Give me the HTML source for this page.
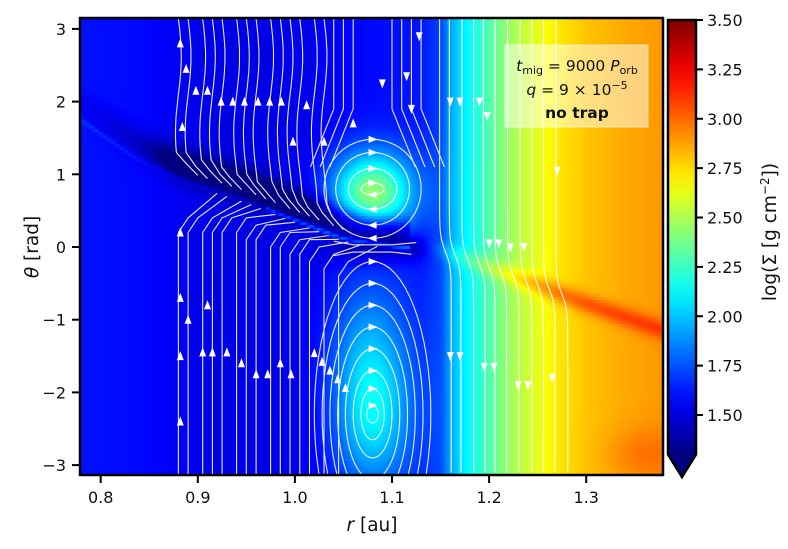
<!DOCTYPE html>
<html><head><meta charset="utf-8">
<style>
body{margin:0;background:#fff;width:788px;height:549px;overflow:hidden;font-family:"DejaVu Sans","Liberation Sans",sans-serif;}
#wrap{position:relative;width:788px;height:549px;}
canvas{position:absolute;left:80px;top:18px;}
svg{position:absolute;left:0;top:0;font-family:"DejaVu Sans","Liberation Sans",sans-serif;}
</style></head>
<body>
<div id="wrap">
<canvas id="hm" width="583" height="457"></canvas>
<svg id="sv" width="788" height="549"></svg>
</div>
<script>
// ---- data ----
const xTicks=[0.8,0.9,1.0,1.1,1.2,1.3];
const xTickLabels=["0.8","0.9","1.0","1.1","1.2","1.3"];
const yTicks=[3,2,1,0,-1,-2,-3];
const yTickLabels=["3","2","1","0","\u22121","\u22122","\u22123"];
const cbTicks=[3.5,3.25,3.0,2.75,2.5,2.25,2.0,1.75,1.5];
const cbTickLabels=["3.50","3.25","3.00","2.75","2.50","2.25","2.00","1.75","1.50"];
// radial background profile of log Sigma
const profR=[0.78,0.84,0.88,0.92,0.98,1.02,1.06,1.10,1.13,1.15,1.16,1.17,1.19,1.21,1.23,1.25,1.27,1.30,1.34,1.38];
const profV=[1.61,1.59,1.55,1.52,1.52,1.54,1.58,1.60,1.62,1.72,1.92,2.05,2.22,2.38,2.52,2.62,2.72,2.80,2.86,2.90];
// wake centreline
const wakeR=[0.78,0.84,0.88,0.95,1.00,1.05,1.10,1.15,1.20,1.25,1.30,1.38];
const wakeT=[1.75,1.2,0.95,0.65,0.38,0.12,0.02,-0.04,-0.28,-0.52,-0.78,-1.15];
// wake amplitude along r (negative = gap/dark, positive = bright spiral)
const wakeAmp=[-0.03,-0.15,-0.38,-0.42,-0.42,-0.40,-0.32,0.12,0.18,0.24,0.24,0.22];
// blobs: r, theta, amplitude, sigma r, sigma theta
const blobR=[1.08,1.08,1.08,1.075,1.36];
const blobT=[0.75,-2.30,0.0,-1.2,-2.85];
const blobA=[0.85,0.5,-0.3,0.22,0.1];
const blobSR=[0.042,0.04,0.045,0.04,0.04];
const blobST=[0.55,1.0,0.22,0.9,0.35];
// streamlines
const leftUpR=[0.88,0.89,0.905,0.915,0.925,0.94,0.95,0.96,0.975,0.985,0.995,1.005,1.02,1.03];
const leftLoR=[0.88,0.89,0.905,0.915,0.925,0.94,0.95,0.96,0.975,0.985,0.995,1.005,1.015,1.03,1.045];
const rightR=[1.155,1.165,1.178,1.19,1.2,1.212,1.225,1.238,1.25,1.262,1.275];
const upVortRR=[0.012,0.025,0.038,0.05];
const upVortRT=[0.08,0.28,0.5,0.68];
const loVortRR=[0.006,0.012,0.02,0.028,0.036,0.044,0.052,0.06];
const loVortRT=[0.12,0.35,0.6,0.9,1.2,1.5,1.8,2.1];
const upArrows=[[0.882,2.8],[0.888,2.45],[0.884,1.65],[0.898,2.15],[0.91,2.15],[0.924,2.0],[0.936,2.0],[0.948,2.0],[0.962,2.0],[0.974,2.0],[0.986,2.0],[0.998,1.45],[1.012,1.95],[1.03,1.45],[1.06,1.7],
 [0.882,0.2],[0.882,-0.7],[0.882,-1.5],[0.882,-2.4],[0.89,-1.0],[0.905,-1.45],[0.915,-1.45],[0.93,-1.45],[0.945,-1.6],[0.96,-1.75],[0.972,-1.75],[0.985,-1.6],[0.996,-1.75],[0.91,-0.8]];
const downArrows=[[1.128,2.9],[1.115,2.35],[1.12,1.9],[1.09,2.25],[1.16,2.0],[1.17,2.0],[1.19,2.0],[1.198,1.8],[1.27,1.05],[1.2,0.05],[1.21,0.05],[1.222,0.0],[1.236,0.0],
 [1.16,-1.5],[1.17,-1.5],[1.195,-1.65],[1.205,-1.65],[1.23,-1.9],[1.24,-1.9],[1.265,-1.8]];

// ---- axes ----
const X=r=>100.7+(r-0.8)*971;
const Y=t=>247-t*72.7;
const CBY=v=>20+(3.5-v)*197.5;
const VMIN=1.3,VMAX=3.5;
function interp(xs,ys,x){if(x<=xs[0])return ys[0];for(let i=1;i<xs.length;i++){if(x<=xs[i]){const f=(x-xs[i-1])/(xs[i]-xs[i-1]);return ys[i-1]+f*(ys[i]-ys[i-1]);}}return ys[ys.length-1];}
function jet(v){let t=(v-VMIN)/(VMAX-VMIN);t=Math.max(0,Math.min(1,t));const c=x=>Math.round(255*Math.max(0,Math.min(1,x)));return [c(1.5-Math.abs(4*t-3)),c(1.5-Math.abs(4*t-2)),c(1.5-Math.abs(4*t-1))];}

// ---- heatmap ----
const cv=document.getElementById('hm'),ctx=cv.getContext('2d');
const cs=3;
for(let py=0;py<457;py+=cs){for(let px=0;px<583;px+=cs){
 const r=0.8+((px+80+cs/2)-100.7)/971, th=(247-(py+18+cs/2))/72.7;
 let v=interp(profR,profV,r);
 const wt=interp(wakeR,wakeT,r), wa=interp(wakeR,wakeAmp,r);
 if(r<1.12){ v+=wa*Math.exp(-Math.pow((th-wt-0.2)/0.22,2)); v+=0.35*Math.exp(-Math.pow((th-wt+0.01)/0.03,2))*(r>0.97?1:0.3);}
 else { v+=wa*Math.exp(-Math.pow((th-wt)/0.14,2)); }
 for(let i=0;i<blobR.length;i++){v+=blobA[i]*Math.exp(-Math.pow((r-blobR[i])/blobSR[i],2)-Math.pow((th-blobT[i])/blobST[i],2));}
 const c=jet(v);ctx.fillStyle=`rgb(${c[0]},${c[1]},${c[2]})`;ctx.fillRect(px,py,cs,cs);
}}

// ---- svg ----
const NS='http://www.w3.org/2000/svg',sv=document.getElementById('sv');
function el(tag,attrs,parent){const e=document.createElementNS(NS,tag);for(const k in attrs)e.setAttribute(k,attrs[k]);(parent||sv).appendChild(e);return e;}
const defs=el('defs',{});
const cp=el('clipPath',{id:'pc'},defs);el('rect',{x:80,y:18,width:583,height:457},cp);
const cbg=el('linearGradient',{id:'cbg',x1:0,y1:1,x2:0,y2:0},defs);
for(let i=0;i<=20;i++){const v=VMIN+(VMAX-VMIN)*i/20;const c=jet(v);el('stop',{offset:i/20,'stop-color':`rgb(${c})`},cbg);}

const sl=el('g',{'clip-path':'url(#pc)',fill:'none',stroke:'#fff','stroke-width':1.1,opacity:0.9});

function pathFrom(pts){return pts.map((p,i)=>(i?'L':'M')+X(p[0]).toFixed(1)+','+Y(p[1]).toFixed(1)).join('');}
leftUpR.forEach(r0=>{const wt=interp(wakeR,wakeT,r0);const pts=[];
 for(let th=3.2;th>wt+0.3;th-=0.1)pts.push([r0+0.003*Math.sin(th*3),th]);
 pts.push([r0+0.008,wt+0.2]);pts.push([r0+0.02,interp(wakeR,wakeT,r0+0.02)+0.12]);
 const p=el('path',{d:pathFrom(pts)},sl);});
leftLoR.forEach(r0=>{const wt=interp(wakeR,wakeT,r0);const pts=[];
 for(let th=-3.2;th<wt-0.45&&th<0.3;th+=0.1)pts.push([r0,th]);
 const last=pts[pts.length-1][1];pts.push([r0+0.01,last+0.2]);pts.push([r0+0.04,interp(wakeR,wakeT,r0+0.04)-0.04]);
 const p=el('path',{d:pathFrom(pts)},sl);});
rightR.forEach(r0=>{const pts=[];const wt=interp(wakeR,wakeT,r0);
 for(let th=3.2;th>=-3.2;th-=0.1)pts.push([r0+0.006*Math.tanh((wt-th)/0.2),th]);
 const p=el('path',{d:pathFrom(pts)},sl);});
[1.04,1.05,1.06,1.1,1.11,1.12,1.13].forEach(r0=>{const pts=[];const c=1.08;const d=r0-c;
 for(let th=3.2;th>1.0;th-=0.1){const s=Math.max(0,1.9-th);pts.push([r0+Math.sign(d)*0.03*s,th]);}
 const p=el('path',{d:pathFrom(pts)},sl);});
function ell(rc,tc,rr,rt){const pts=[];for(let k=0;k<=64;k++){const t=k/64*2*Math.PI;pts.push([rc+rr*Math.cos(t),tc+rt*Math.sin(t)]);}return pts;}
upVortRR.forEach((rr,i)=>{const p=el('path',{d:pathFrom(ell(1.08,0.8,rr,upVortRT[i]))+'Z'},sl);});
loVortRR.forEach((rr,i)=>{const p=el('path',{d:pathFrom(ell(1.08,-2.3,rr,loVortRT[i]))+'Z'},sl);});
const hs1=el('path',{d:pathFrom([[1.04,0.08],[1.06,0.03],[1.1,0.03],[1.125,0.06]])},sl);
const hs2=el('path',{d:pathFrom([[1.04,-0.12],[1.06,-0.07],[1.1,-0.07],[1.12,-0.1]])},sl);

const ar=el('g',{'clip-path':'url(#pc)',fill:'#fff'});

function arrow(r,t,ang,name){const x=X(r),y=Y(t);const p=el('path',{d:'M5,0L-4,-3.5L-4,3.5Z',transform:`translate(${x.toFixed(1)},${y.toFixed(1)}) rotate(${ang})`},ar);}
upArrows.forEach(a=>arrow(a[0],a[1],-90,'arrow-up'));
downArrows.forEach(a=>arrow(a[0],a[1],90,'arrow-down'));
upVortRR.forEach((rr,i)=>{arrow(1.08,0.8+upVortRT[i],0,'arrow-vortex');arrow(1.08,0.8-upVortRT[i],180,'arrow-vortex');});
loVortRR.forEach((rr,i)=>{if(i>2)arrow(1.08-rr,-2.3+loVortRT[i]*0.4,-90,'arrow-vortex');arrow(1.08,-2.3+loVortRT[i],0,'arrow-vortex');});

const fr=el('rect',{x:80,y:18,width:583,height:457,fill:'none',stroke:'#000','stroke-width':2.5});

xTicks.forEach((t,i)=>{const x=X(t);
 const l=el('line',{x1:x,x2:x,y1:476,y2:483,stroke:'#000','stroke-width':2});
 const tx=el('text',{x:x,y:503,'font-size':16,'text-anchor':'middle',fill:'#111'});tx.textContent=xTickLabels[i];});
yTicks.forEach((t,i)=>{const y=Y(t);
 const l=el('line',{x1:72,x2:79,y1:y,y2:y,stroke:'#000','stroke-width':2});
 const tx=el('text',{x:66,y:y+6,'font-size':16,'text-anchor':'end',fill:'#111'});tx.textContent=yTickLabels[i];});
const xl=el('text',{x:372,y:531,'font-size':18.5,'text-anchor':'middle',fill:'#111'});xl.innerHTML='<tspan font-style="italic">r</tspan> [au]';

const yl=el('text',{x:0,y:0,'font-size':18.5,'text-anchor':'middle',fill:'#111',transform:'translate(38,247) rotate(-90)'});yl.innerHTML='<tspan font-style="italic">θ</tspan> [rad]';

const ab=el('g',{});
el('rect',{x:505,y:45,width:143,height:82,fill:'#fff','fill-opacity':0.5,stroke:'#fff','stroke-opacity':0.6},ab);
const a1=el('text',{x:577,y:71,'font-size':15.5,'text-anchor':'middle',fill:'#111'},ab);a1.innerHTML='<tspan font-style="italic">t</tspan><tspan font-size="11" dy="3">mig</tspan><tspan dy="-3"> = 9000 </tspan><tspan font-style="italic">P</tspan><tspan font-size="11" dy="3">orb</tspan>';
const a2=el('text',{x:577,y:95,'font-size':15.5,'text-anchor':'middle',fill:'#111'},ab);a2.innerHTML='<tspan font-style="italic">q</tspan> = 9 × 10<tspan font-size="11" dy="-6">−5</tspan>';
const a3=el('text',{x:577,y:118,'font-size':15.5,'text-anchor':'middle','font-weight':'bold',fill:'#111'},ab);a3.textContent='no trap';
const cb=el('g',{});
el('rect',{x:668,y:CBY(3.5),width:28,height:CBY(VMIN)-CBY(3.5),fill:'url(#cbg)'},cb);
const c0=jet(VMIN);
el('path',{d:`M668,${CBY(VMIN)}L696,${CBY(VMIN)}L682,477Z`,fill:`rgb(${c0})`},cb);
el('path',{d:`M668,${CBY(3.5)}L696,${CBY(3.5)}L696,${CBY(VMIN)}L682,477L668,${CBY(VMIN)}Z`,fill:'none',stroke:'#000','stroke-width':2.5},cb);
cbTicks.forEach((t,i)=>{const y=CBY(t);
 const l=el('line',{x1:697,x2:703,y1:y,y2:y,stroke:'#000','stroke-width':2},cb);
 const tx=el('text',{x:707,y:y+6,'font-size':16,fill:'#111'},cb);tx.textContent=cbTickLabels[i];});
const cl=el('text',{x:0,y:0,'font-size':18.5,'text-anchor':'middle',fill:'#111',transform:'translate(776,232) rotate(-90)'});cl.innerHTML='log(Σ [g cm<tspan font-size="12" dy="-7">−2</tspan><tspan dy="7">])</tspan>';

</script>
</body></html>
